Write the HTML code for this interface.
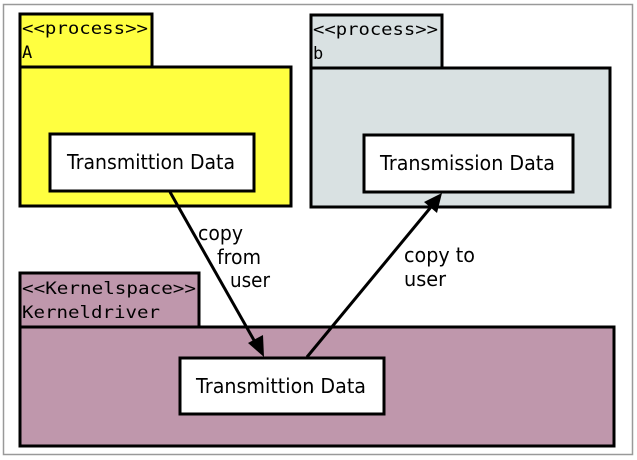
<!DOCTYPE html>
<html><head><meta charset="utf-8"><style>
html,body{margin:0;padding:0;background:#fff;}
svg{display:block;}
.m{font-family:"DejaVu Sans Mono","Liberation Mono",monospace;font-size:17px;fill:#000;}
.s{font-family:"DejaVu Sans","Liberation Sans",sans-serif;font-size:20px;fill:#000;}
</style></head><body>
<svg width="637" height="460" viewBox="0 0 637 460" xmlns="http://www.w3.org/2000/svg">
<rect x="3.5" y="4.5" width="629" height="450" fill="#fff" stroke="#999" stroke-width="1.5"/>
<g stroke="#000" stroke-width="3">
<rect x="20" y="14" width="132" height="53" fill="#ffff40"/>
<rect x="20" y="67" width="271" height="139" fill="#ffff40"/>
<rect x="50" y="134" width="204" height="57" fill="#fff"/>
<rect x="311" y="15" width="131" height="53" fill="#d9e1e2"/>
<rect x="311" y="68" width="299" height="139" fill="#d9e1e2"/>
<rect x="364" y="135" width="209" height="57" fill="#fff"/>
<rect x="20" y="273" width="179" height="54" fill="#bf97ac"/>
<rect x="20" y="327" width="594" height="119" fill="#bf97ac"/>
<rect x="180" y="358" width="204" height="56" fill="#fff"/>
<line x1="170" y1="192" x2="255" y2="342"/>
<line x1="307" y1="357" x2="431" y2="207"/>
</g>
<polygon points="264,357 248,343 263,335" fill="#000"/>
<polygon points="442,193 437,213 424,202" fill="#000"/>
<text class="m" x="22" y="34" textLength="126" lengthAdjust="spacingAndGlyphs">&lt;&lt;process&gt;&gt;</text>
<text class="m" x="22" y="58">A</text>
<text class="m" x="313" y="35" textLength="125" lengthAdjust="spacingAndGlyphs">&lt;&lt;process&gt;&gt;</text>
<text class="m" x="313" y="59">b</text>
<text class="m" x="22" y="294" textLength="174" lengthAdjust="spacingAndGlyphs">&lt;&lt;Kernelspace&gt;&gt;</text>
<text class="m" x="22" y="318" textLength="138" lengthAdjust="spacingAndGlyphs">Kerneldriver</text>
<text class="s" x="67" y="169" textLength="168" lengthAdjust="spacingAndGlyphs">Transmittion Data</text>
<text class="s" x="380" y="170" textLength="175" lengthAdjust="spacingAndGlyphs">Transmission Data</text>
<text class="s" x="196" y="393" textLength="170" lengthAdjust="spacingAndGlyphs">Transmittion Data</text>
<text class="s" x="198" y="240" textLength="45" lengthAdjust="spacingAndGlyphs">copy</text>
<text class="s" x="217" y="264" textLength="44" lengthAdjust="spacingAndGlyphs">from</text>
<text class="s" x="230" y="287" textLength="40" lengthAdjust="spacingAndGlyphs">user</text>
<text class="s" x="404" y="262" textLength="71" lengthAdjust="spacingAndGlyphs">copy to</text>
<text class="s" x="404" y="286" textLength="42" lengthAdjust="spacingAndGlyphs">user</text>
</svg>
</body></html>
